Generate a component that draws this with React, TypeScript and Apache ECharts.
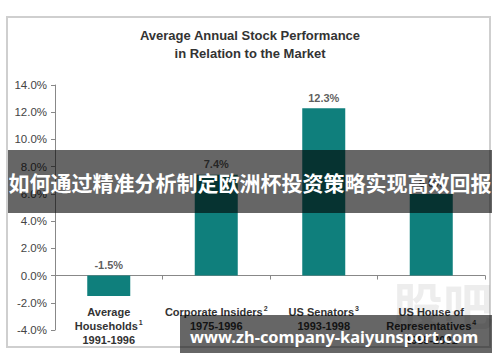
import React, { useEffect, useRef } from "react";
import * as echarts from "echarts";

const categories = [
  "Average\nHouseholds{s|1}\n1991-1996",
  "Corporate Insiders{s|2}\n1975-1996",
  "US Senators{s|3}\n1993-1998",
  "US House of\nRepresentatives{s|4}\n1985-2001",
];
const values = [-1.5, 7.4, 12.3, 6.0];
const yTicks = { min: -4, max: 14, interval: 2 };
const titleText = "Average Annual Stock Performance\nin Relation to the Market";
const bannerText = "如何通过精准分析制定欧洲杯投资策略实现高效回报";
const urlText = "www.zh-company-kaiyunsport.com";

const FONT = "Liberation Sans, Arial, sans-serif";

export default function App() {
  const ref = useRef<HTMLDivElement>(null);
  useEffect(() => {
    if (!ref.current) return;
    const chart = echarts.init(ref.current, undefined, { renderer: "svg" });
    chart.setOption({
      animation: false,
      backgroundColor: "#ffffff",
      title: {
        text: titleText,
        left: "center",
        top: 21,
        textStyle: {
          fontFamily: FONT,
          fontSize: 13,
          fontWeight: "bold",
          color: "#333",
          lineHeight: 18,
        },
      },
      grid: {
        left: 55,
        right: 15,
        top: 85,
        bottom: 32,
        containLabel: false,
        outerBoundsMode: "none",
      },
      xAxis: {
        type: "category",
        data: categories,
        axisLine: { onZero: true, lineStyle: { color: "#888", width: 1 } },
        axisTick: { show: true, length: 4, lineStyle: { color: "#888" } },
        axisLabel: {
          interval: 0,
          margin: -25,
          fontFamily: FONT,
          fontSize: 11,
          fontWeight: "bold",
          color: "#333",
          lineHeight: 14,
          rich: {
            s: {
              fontFamily: FONT,
              fontSize: 7,
              fontWeight: "bold",
              color: "#333",
              verticalAlign: "top",
              padding: [0, 0, 6, 1],
            },
          },
        },
      },
      yAxis: {
        type: "value",
        min: yTicks.min,
        max: yTicks.max,
        interval: yTicks.interval,
        splitLine: { show: false },
        axisLine: { show: true, lineStyle: { color: "#888" } },
        axisTick: { show: true, length: 4, lineStyle: { color: "#888" } },
        axisLabel: {
          margin: 8,
          fontFamily: FONT,
          fontSize: 11.5,
          color: "#444",
          formatter: (v: number) => v.toFixed(1) + "%",
        },
      },
      series: [
        {
          type: "bar",
          data: values,
          barWidth: 43,
          itemStyle: { color: "#0f7f7c" },
        },
        {
          type: "scatter",
          data: values.map((v) => Math.max(v, 0)),
          symbolSize: 0,
          z: 5,
          label: {
            show: true,
            position: "top",
            distance: 5,
            fontFamily: FONT,
            fontSize: 11,
            fontWeight: "bold",
            color: "#333",
            formatter: (p: any) => values[p.dataIndex].toFixed(1) + "%",
          },
        },
      ],
      graphic: [
        {
          type: "rect",
          z: -10,
          shape: { x: 7, y: 17, width: 483, height: 330 },
          style: { fill: "#ffffff", stroke: "#cfcfcf", lineWidth: 2 },
        },
        {
          type: "text",
          z: 50,
          x: 393,
          y: 278,
          style: {
            text: "股吧",
            fontSize: 50,
            fontWeight: "bold",
            fontFamily: "Noto Sans CJK SC",
            fill: "rgba(0,0,0,0.07)",
          },
        },
        {
          type: "rect",
          z: 100,
          shape: { x: 8, y: 150, width: 484, height: 63 },
          style: { fill: "rgba(0,0,0,0.6)" },
        },
        {
          type: "text",
          z: 101,
          x: 250,
          y: 182,
          style: {
            text: bannerText,
            fill: "#ffffff",
            fontSize: 21,
            fontWeight: "bold",
            fontFamily: "Noto Sans CJK SC",
            align: "center",
            verticalAlign: "middle",
          },
        },
        {
          type: "rect",
          z: 100,
          shape: { x: 180, y: 315, width: 312, height: 38 },
          style: { fill: "rgba(0,0,0,0.6)" },
        },
        {
          type: "text",
          z: 101,
          x: 334,
          y: 336,
          style: {
            text: urlText,
            fill: "#ffffff",
            fontSize: 16.4,
            fontWeight: "bold",
            fontFamily: "Noto Sans, Open Sans, sans-serif",
            align: "center",
            verticalAlign: "middle",
          },
        },
      ],
    });
    return () => chart.dispose();
  }, []);
  return (
    <div
      ref={ref}
      style={{ position: "fixed", left: 0, top: 0, width: 500, height: 362 }}
    />
  );
}
